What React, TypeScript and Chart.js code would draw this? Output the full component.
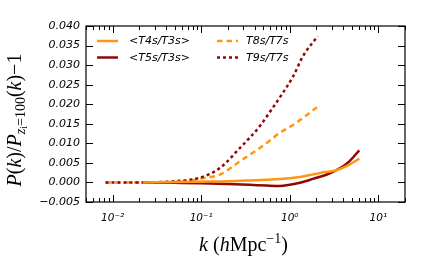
import React, { useEffect, useRef } from "react";
import { Chart, registerables } from "chart.js";

Chart.register(...registerables);

// ---------- data ----------
const K_SOLID = [0.022, 0.05, 0.1, 0.2, 0.35, 0.55, 0.77, 1.0, 1.3, 1.7, 2.0, 2.4, 3.2, 4.5, 6.1];
const T4_T3 = [0.0, 0.0001, 0.0002, 0.0003, 0.0005, 0.0007, 0.0009, 0.0011, 0.0014, 0.0019, 0.0022, 0.0026, 0.003, 0.0043, 0.0061];
const T5_T3 = [0.0, -0.0001, -0.0002, -0.0004, -0.0006, -0.0008, -0.0009, -0.0006, -0.0001, 0.0007, 0.0012, 0.0017, 0.0029, 0.005, 0.0082];

const K_DASH = [0.0083, 0.012, 0.02, 0.035, 0.05, 0.075, 0.097, 0.163, 0.273, 0.459, 0.62, 0.77, 1.09, 1.41, 2.07];
const T8_T7 = [0.0, 0.0, 0.0, 0.0, 0.0001, 0.0004, 0.001, 0.002, 0.0054, 0.0088, 0.011, 0.0127, 0.0147, 0.0165, 0.0194];
const T9_T7 = [0.0, 0.0, 0.0, 0.0001, 0.0003, 0.0007, 0.0012, 0.0037, 0.0088, 0.0144, 0.0186, 0.0217, 0.0271, 0.0323, 0.0374];

const SERIES_LABELS = ["<T4s/T3s>", "<T5s/T3s>", "T8s/T7s", "T9s/T7s"];
const Y_TICKS = [-0.005, 0, 0.005, 0.01, 0.015, 0.02, 0.025, 0.03, 0.035, 0.04];
const X_TICKS = [0.01, 0.1, 1, 10];
const X_TICK_LABELS = ["10\u207B\u00B2", "10\u207B\u00B9", "10\u2070", "10\u00B9"];

const ORANGE = "#ff9612";
const DARKRED = "#920808";

type Run = { t: string; it?: boolean; sc?: number; dy?: number };

function drawRuns(ctx: CanvasRenderingContext2D, runs: Run[], cx: number, cy: number, size: number) {
  const fam = '"Liberation Serif", "DejaVu Serif", serif';
  const fontOf = (r: Run) => `${r.it ? "italic " : ""}${Math.round(size * (r.sc || 1) * 10) / 10}px ${fam}`;
  let total = 0;
  const widths = runs.map((r) => {
    ctx.font = fontOf(r);
    const w = ctx.measureText(r.t).width;
    total += w;
    return w;
  });
  let x = cx - total / 2;
  ctx.textBaseline = "alphabetic";
  ctx.textAlign = "left";
  runs.forEach((r, i) => {
    ctx.font = fontOf(r);
    ctx.fillText(r.t, x, cy + (r.dy || 0) * size);
    x += widths[i];
  });
}

const decorPlugin = {
  id: "decor",
  afterDraw(chart: any) {
    const { ctx, chartArea: a, scales } = chart;
    const xs = scales.x;
    const ys = scales.y;
    ctx.save();
    ctx.strokeStyle = "#000";
    ctx.fillStyle = "#000";
    // frame
    ctx.lineWidth = 1.2;
    ctx.strokeRect(a.left, a.top, a.right - a.left, a.bottom - a.top);
    ctx.lineWidth = 1;
    const major = 7;
    const minor = 4;
    // x ticks (top & bottom)
    const xmin = xs.min;
    const xmax = xs.max;
    for (let e = -3; e <= 2; e++) {
      for (let m = 1; m <= 9; m++) {
        const v = m * Math.pow(10, e);
        if (v < xmin || v > xmax) continue;
        const px = Math.round(xs.getPixelForValue(v)) + 0.5;
        const len = m === 1 ? major : minor;
        ctx.beginPath();
        ctx.moveTo(px, a.bottom);
        ctx.lineTo(px, a.bottom - len);
        ctx.moveTo(px, a.top);
        ctx.lineTo(px, a.top + len);
        ctx.stroke();
      }
    }
    // y ticks (left & right)
    Y_TICKS.forEach((v) => {
      const py = Math.round(ys.getPixelForValue(v)) + 0.5;
      ctx.beginPath();
      ctx.moveTo(a.left, py);
      ctx.lineTo(a.left + major, py);
      ctx.moveTo(a.right, py);
      ctx.lineTo(a.right - major, py);
      ctx.stroke();
    });

    // legend
    const meta = chart.data.datasets;
    const cols = [
      { lx: 97, tx: 129 },
      { lx: 217, tx: 246 },
    ];
    const rows = [41, 57.5];
    const order = [0, 1, 2, 3];
    ctx.font = 'italic 11px "DejaVu Sans", sans-serif';
    ctx.textBaseline = "middle";
    ctx.textAlign = "left";
    order.forEach((di, i) => {
      const ds = meta[di];
      const c = cols[Math.floor(i / 2)];
      const y = rows[i % 2];
      ctx.save();
      ctx.strokeStyle = ds.borderColor;
      ctx.lineWidth = ds.borderWidth;
      ctx.setLineDash(ds.borderDash || []);
      ctx.beginPath();
      ctx.moveTo(c.lx, y);
      ctx.lineTo(c.lx + 21, y);
      ctx.stroke();
      ctx.restore();
      ctx.fillStyle = "#000";
      ctx.fillText(ds.label, c.tx, y + 0.5);
    });

    // x title
    ctx.fillStyle = "#000";
    drawRuns(
      ctx,
      [
        { t: "k", it: true },
        { t: " (" },
        { t: "h", it: true },
        { t: "Mpc" },
        { t: "\u22121", sc: 0.7, dy: -0.42 },
        { t: ")" },
      ],
      (a.left + a.right) / 2 - 2,
      251,
      20
    );
    // y title
    ctx.save();
    ctx.translate(21, (a.top + a.bottom) / 2 + 6);
    ctx.rotate(-Math.PI / 2);
    drawRuns(
      ctx,
      [
        { t: "P", it: true },
        { t: "(" },
        { t: "k", it: true },
        { t: ")" },
        { t: "/" },
        { t: "P", it: true },
        { t: "z", it: true, sc: 0.7, dy: 0.2 },
        { t: "i", it: false, sc: 0.5, dy: 0.32 },
        { t: "=100", sc: 0.7, dy: 0.2 },
        { t: "(" },
        { t: "k", it: true },
        { t: ")" },
        { t: "\u22121" },
      ],
      0,
      0,
      20
    );
    ctx.restore();
    ctx.restore();
  },
};

export default function App() {
  const ref = useRef<HTMLCanvasElement | null>(null);
  useEffect(() => {
    document.body.style.margin = "0";
    const canvas = ref.current;
    if (!canvas) return;
    const pts = (xs: number[], ys: number[]) => xs.map((x, i) => ({ x, y: ys[i] }));
    const chart = new Chart(canvas, {
      type: "line",
      data: {
        datasets: [
          {
            label: SERIES_LABELS[0],
            data: pts(K_SOLID, T4_T3),
            borderColor: ORANGE,
            borderWidth: 2.5,
            pointRadius: 0,
            cubicInterpolationMode: "monotone",
            fill: false,
          },
          {
            label: SERIES_LABELS[1],
            data: pts(K_SOLID, T5_T3),
            borderColor: DARKRED,
            borderWidth: 2.5,
            pointRadius: 0,
            cubicInterpolationMode: "monotone",
            fill: false,
          },
          {
            label: SERIES_LABELS[2],
            data: pts(K_DASH, T8_T7),
            borderColor: ORANGE,
            borderWidth: 2.5,
            borderDash: [5.5, 4],
            pointRadius: 0,
            cubicInterpolationMode: "monotone",
            fill: false,
            order: 1,
          },
          {
            label: SERIES_LABELS[3],
            data: pts(K_DASH, T9_T7),
            borderColor: DARKRED,
            borderWidth: 2.5,
            borderDash: [3, 3],
            pointRadius: 0,
            cubicInterpolationMode: "monotone",
            fill: false,
            order: 0,
          },
        ] as any,
      },
      options: {
        responsive: false,
        animation: false,
        devicePixelRatio: 1,
        layout: { padding: { left: 0, top: 26, right: 20, bottom: 0 } },
        plugins: { legend: { display: false }, tooltip: { enabled: false } },
        scales: {
          x: {
            type: "logarithmic",
            min: 0.005,
            max: 20,
            grid: { display: false, drawTicks: false },
            border: { display: false },
            afterFit: (s: any) => {
              s.height = 62;
            },
            afterBuildTicks: (s: any) => {
              s.ticks = X_TICKS.map((v) => ({ value: v, major: true }));
            },
            ticks: {
              autoSkip: false,
              maxRotation: 0,
              padding: 10,
              color: "#000",
              font: { family: '"DejaVu Sans", sans-serif', size: 10.5, style: "italic" },
              callback: (v: any) => {
                const i = X_TICKS.findIndex((t) => Math.abs(t - Number(v)) / t < 1e-6);
                return i >= 0 ? X_TICK_LABELS[i] : "";
              },
            },
          },
          y: {
            type: "linear",
            min: -0.005,
            max: 0.04,
            grid: { display: false, drawTicks: false },
            border: { display: false },
            afterFit: (s: any) => {
              s.width = 86;
            },
            afterBuildTicks: (s: any) => {
              s.ticks = Y_TICKS.map((v) => ({ value: v }));
            },
            ticks: {
              autoSkip: false,
              padding: 6,
              color: "#000",
              font: { family: '"DejaVu Sans", sans-serif', size: 11, style: "italic" },
              callback: (v: any) => {
                const n = Number(v);
                const s = Math.abs(n).toFixed(3);
                return n < -1e-9 ? "\u2212" + s : s;
              },
            },
          },
        },
      },
      plugins: [decorPlugin],
    });
    return () => chart.destroy();
  }, []);
  return (
    <div style={{ width: 425, height: 264 }}>
      <canvas ref={ref} width={425} height={264} style={{ display: "block" }} />
    </div>
  );
}
